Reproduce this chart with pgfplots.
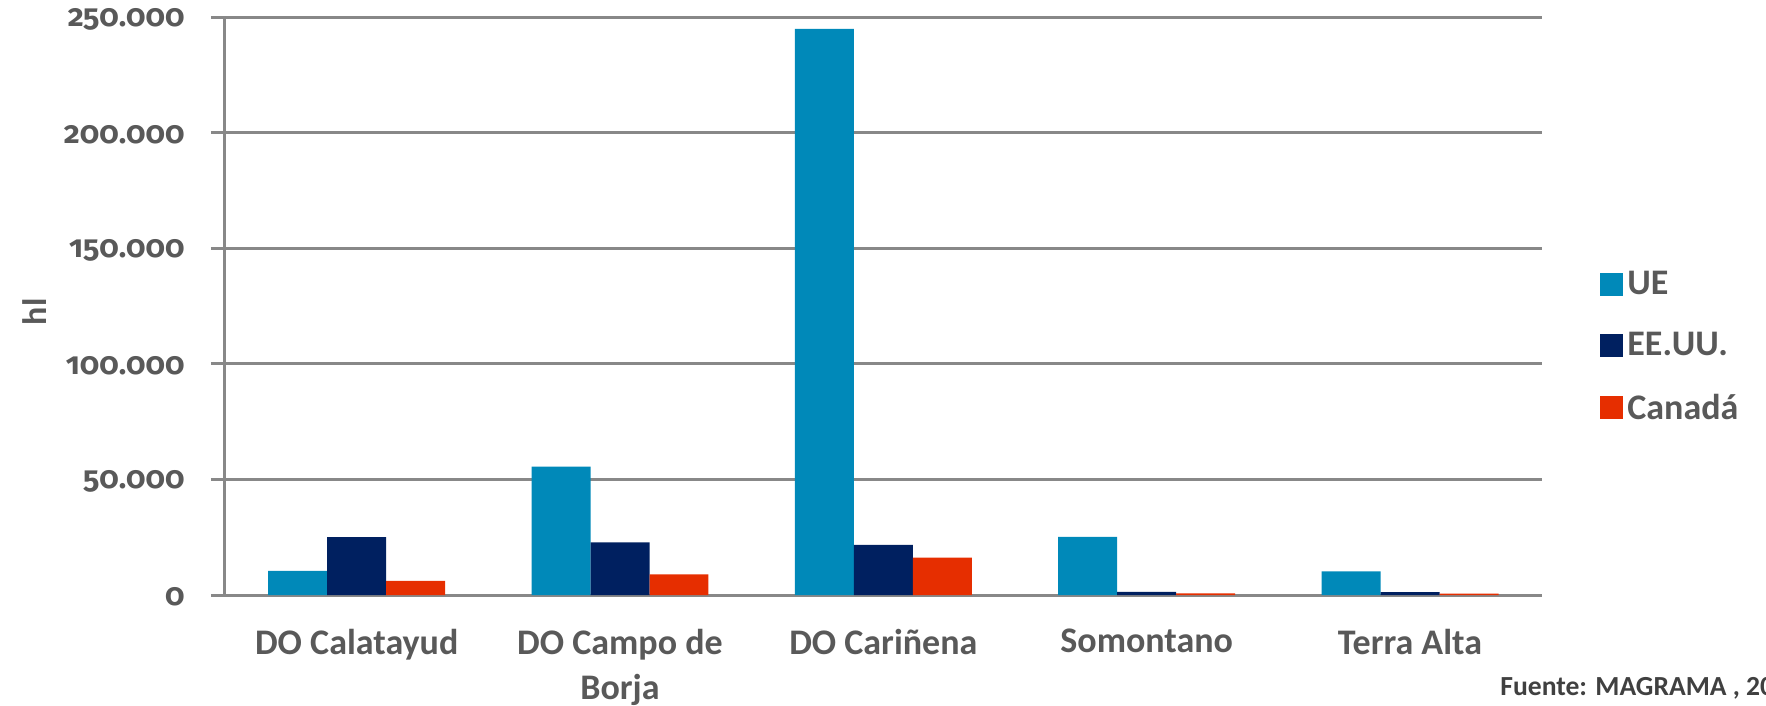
\documentclass[border=0pt]{standalone}
\usepackage{pgfplots}
\pgfplotsset{compat=1.18}
\usepackage{fontspec}
\setmainfont{Carlito}
\newfontfamily\numfont{Fira Sans Bold}[Numbers=OldStyle]
\definecolor{cUE}{RGB}{0,137,185}
\definecolor{cUS}{RGB}{0,32,96}
\definecolor{cCA}{RGB}{230,46,0}
\definecolor{txt}{RGB}{89,89,89}
\definecolor{src}{RGB}{64,64,64}
\definecolor{grd}{RGB}{136,136,136}
\begin{document}
\begin{tikzpicture}
\path[use as bounding box] (-112.5pt,-55.5pt) rectangle (770.5pt,297.5pt);
\begin{axis}[
  at={(0,0)}, anchor=south west,
  scale only axis, width=658.35pt, height=288.85pt,
  ybar=0pt, bar width=0.224,
  xmin=-0.5, xmax=4.5, ymin=0, ymax=250000,
  scaled y ticks=false,
  xtick=data,
  xticklabels={DO Calatayud, DO Campo de\\Borja, DO Cariñena, Somontano, Terra Alta},
  xticklabel style={align=center, font=\fontsize{18}{22.5}\selectfont\bfseries, text=txt, yshift=-6.5pt},
  ytick={0,50000,100000,150000,200000,250000},
  yticklabels={0,50.000,100.000,150.000,200.000,250.000},
  yticklabel style={font=\fontsize{15.5}{17}\selectfont\numfont, text=txt, xshift=-9.7pt, yshift=-1pt},
  ylabel={hl},
  every axis y label/.style={at={(axis description cs:-0.1443,0.49)}, rotate=90, anchor=center},
  ylabel style={font=\fontsize{17}{18}\selectfont\bfseries, text=txt},
  ymajorgrids, grid style={grd, line width=1.5pt},
  major tick length=7pt,
  xtick style={draw=none},
  ytick style={grd, line width=1.5pt},
  tick align=outside,
  axis x line*=bottom, axis y line*=left,
  axis line style={grd, line width=1.5pt},
  x axis line style={-}, y axis line style={-},
  legend style={at={(1.0397,0.43)}, anchor=west, draw=none, fill=none,
    font=\fontsize{18}{19}\selectfont\bfseries, text=txt, row sep=13.5pt},
  legend cell align=left,
  legend image code/.code={\fill[#1] (0pt,-5.75pt) rectangle (11.5pt,5.75pt);},
]
\addplot[fill=cUE, draw=none] coordinates {(0,10400) (1,55600) (2,245000) (3,25200) (4,10200)};
\addplot[fill=cUS, draw=none] coordinates {(0,25000) (1,22800) (2,21700) (3,1300) (4,1200)};
\addplot[fill=cCA, draw=none] coordinates {(0,6100) (1,8900) (2,16200) (3,700) (4,600)};
\legend{UE, EE.UU., Canadá}
\end{axis}
\node[anchor=base west, font=\fontsize{13.8}{15}\selectfont\bfseries, text=src, inner sep=0pt] at (637.5pt,-50pt) {Fuente: MAGRAMA , 2014};
\end{tikzpicture}
\end{document}
